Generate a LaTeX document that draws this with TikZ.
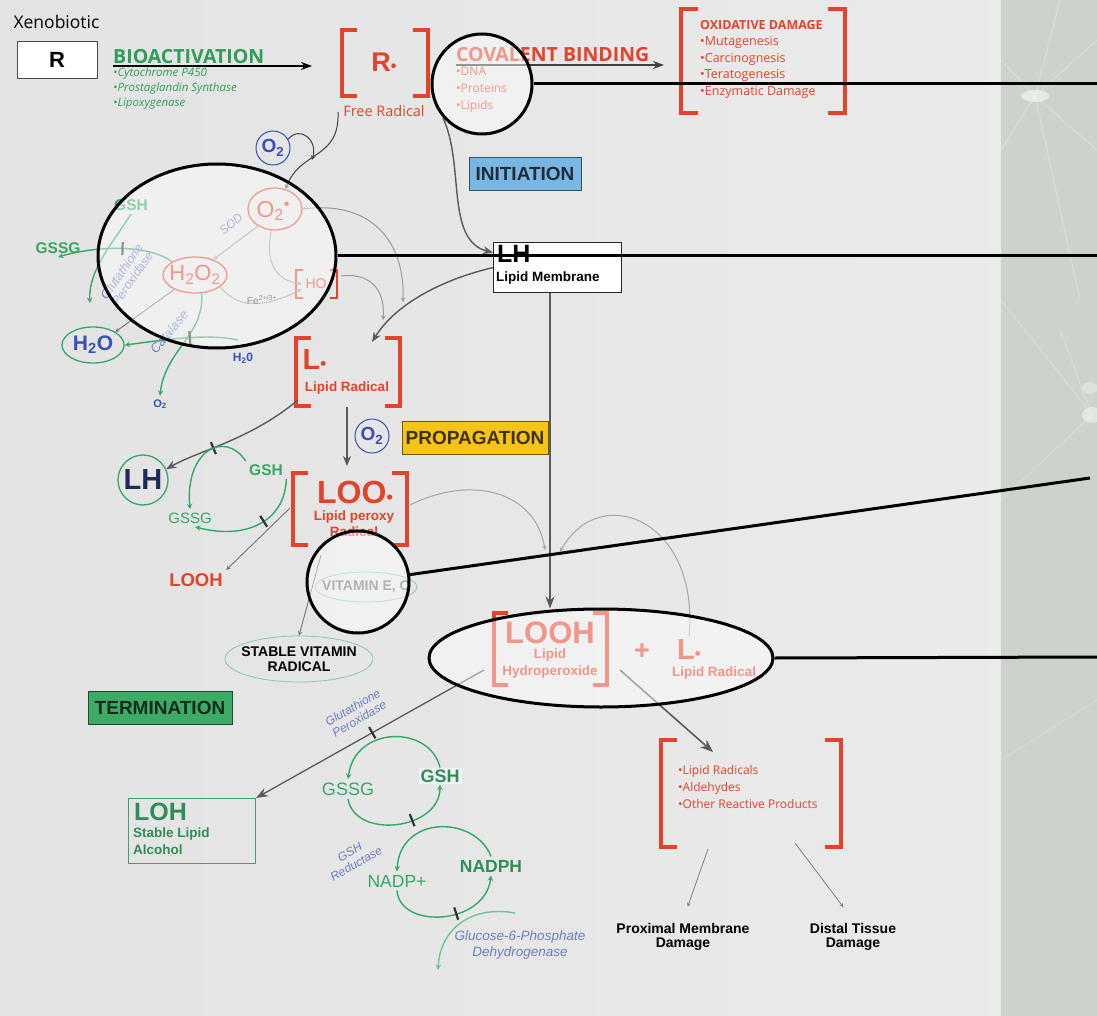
\documentclass[tikz,border=0pt]{standalone}
\usepackage{fontspec}
\setmainfont{Liberation Sans}
\newfontfamily\myriad{Open Sans}
\usepackage{tikz}
\usetikzlibrary{shapes.geometric,arrows.meta}
\usepackage{xcolor}

\definecolor{radred}{HTML}{E2432A}
\definecolor{bioGreen}{HTML}{2E9E5A}
\definecolor{cycGreen}{HTML}{35A866}
\definecolor{oxBlue}{HTML}{3A4FB8}
\definecolor{enzBlue}{HTML}{6C7FC0}
\definecolor{arrGray}{HTML}{5A5A5A}
\definecolor{lightArr}{HTML}{9A9A9A}
\definecolor{initBlue}{HTML}{78B6E4}
\definecolor{propYellow}{HTML}{F5C414}
\definecolor{termGreen}{HTML}{3DAA68}
\definecolor{panelGreen}{HTML}{CCD3CA}
\definecolor{lhNavy}{HTML}{1E2A5A}

\newcommand{\fsz}[2]{\fontsize{#1}{#2}\selectfont}
% square brackets round a species
\newcommand{\sqbr}[6][brk]{%
  \draw[#1] (#2+#6,#4) -- (#2,#4) -- (#2,#5) -- (#2+#6,#5);
  \draw[#1] (#3-#6,#4) -- (#3,#4) -- (#3,#5) -- (#3-#6,#5);}

\begin{document}
\begin{tikzpicture}[x=1pt,y=-1pt,
    brk/.style={draw=radred,line width=4.5pt},
    garr/.style={-{Stealth[length=10pt,width=8pt]},draw=arrGray,line width=1.4pt},
    larr/.style={-stealth,draw=lightArr,line width=1pt},
    cyc/.style={-stealth,draw=cycGreen,line width=1.4pt},
    bar/.style={sloped,fill=black!80,inner sep=0pt,minimum width=2.2pt,minimum height=13pt},
    o2circ/.style={circle,draw=oxBlue,line width=1pt,minimum size=34pt,inner sep=0pt,text=oxBlue,font=\bfseries\fsz{19}{19}},
    oval/.style={ellipse,draw=#1,line width=1.2pt,inner sep=0pt},
    phase/.style={draw=#1!45!black,fill=#1,line width=0.8pt,inner sep=2pt,minimum height=33pt,text=#1!25!black,font=\bfseries\fsz{19}{19}},
    callout/.style={draw=black,line width=3pt,fill=white,fill opacity=0.45},
    callline/.style={draw=black,line width=3pt}]
\useasboundingbox (0,0) rectangle (1097,1016);

% background and side panel
\shade[left color=black!11,middle color=black!3,right color=black!8] (0,0) rectangle (1001,1016);
\fill[panelGreen] (1001,0) rectangle (1097,1016);
\coordinate (glowA) at (1035,96);
\coordinate (glowB) at (1092,415);
\foreach \ex/\ey in {1060/0,1097/40,1097/150,1080/300,1001/60,1001/150}
  \draw[white,opacity=0.2,line width=1.5pt] (glowA) -- (\ex,\ey);
\foreach \ex/\ey in {1001/300,1060/330,1001/500}
  \draw[white,opacity=0.18,line width=1.5pt] (glowB) -- (\ex,\ey);
\draw[white,opacity=0.15,line width=1.5pt] (1001,760) -- (1097,700);
\fill[white,opacity=0.5] (glowA) ellipse (14 and 6);
\fill[white,opacity=0.45] (glowB) ellipse (10 and 8);
\fill[white,opacity=0.35] (1090,388) ellipse (8 and 6);

% bioactivation
\node[anchor=west,font=\myriad\fsz{17.5}{17.5}] (xeno) at (10,22) {Xenobiotic};
\node[draw=black!70,line width=1pt,fill=white,minimum width=80pt,minimum height=37pt,font=\bfseries\fsz{22}{22}] (rbox) at (57,60) {R};
\coordinate (bioS) at (113,66);
\coordinate (bioE) at (312,66);
\draw[-{Stealth[length=11pt,width=8pt]},line width=1.4pt] (bioS) -- (bioE);
\node[anchor=south west,inner sep=0pt,text=bioGreen,font=\myriad\bfseries\fsz{19.5}{19.5}] (bioT) at (113,64) {BIOACTIVATION};
\node[anchor=north west,inner sep=0pt,align=left,text=bioGreen,font=\myriad\itshape\fsz{11.5}{15}] (bioL) at (113,68) {\textbullet Cytochrome P450\\\textbullet Prostaglandin Synthase\\\textbullet Lipoxygenase};

\node[text=radred,font=\bfseries\fsz{27}{27}] (rrad) at (384,62) {R{\fsz{16}{16}\textbullet}};
\sqbr{342}{428}{30}{96}{15}
\node[text=radred,font=\myriad\fsz{14.5}{14.5}] (frad) at (384,111) {Free Radical};

% covalent binding
\node[anchor=south west,inner sep=0pt,text=radred,font=\myriad\bfseries\fsz{19.5}{19.5}] (covT) at (456,62) {COVALENT BINDING};
\coordinate (covS) at (456,65);
\coordinate (covE) at (664,65);
\draw[-{Stealth[length=11pt,width=8pt]},line width=1.4pt,draw=black!75] (covS) -- (covE);
\node[anchor=north west,inner sep=0pt,align=left,text=radred,font=\myriad\fsz{12}{17}] (covL) at (456,67) {\textbullet DNA\\\textbullet Proteins\\\textbullet Lipids};

\sqbr{681}{845}{9}{113}{17}
\node[anchor=north west,inner sep=0pt,align=left,text=radred,font=\myriad\fsz{12.5}{16.5}] (oxL) at (700,20) {\textbf{OXIDATIVE DAMAGE}\\\textbullet Mutagenesis\\\textbullet Carcinognesis\\\textbullet Teratogenesis\\\textbullet Enzymatic Damage};

% superoxide and peroxide
\node[o2circ] (o2a) at (273,148) {O\textsubscript{2}};
\node[oval=radred,minimum width=54pt,minimum height=42pt] (sup) at (275,209) {};
\node[text=radred,font=\fsz{23}{23}] (supT) at (273,211) {O\textsubscript{2}\raisebox{8pt}{\fsz{16}{16}\textbullet}};
\node[oval=radred,minimum width=64pt,minimum height=36pt] (hoo) at (195,275) {};
\node[text=radred,font=\fsz{22}{22}] (hooT) at (hoo) {H\textsubscript{2}O\textsubscript{2}};
\node[text=radred,font=\fsz{14}{14}] (ho) at (316,284) {HO};
\sqbr[brk,line width=2.5pt]{296}{337}{270}{298}{7}

\coordinate (rBot) at (338,112);
\coordinate (o2j) at (312,160);
\draw[-stealth,draw=black!75,line width=1pt] (rBot) .. controls (340,160) and (300,150) .. (sup.62);
\draw[-stealth,draw=black!75,line width=1pt] (o2a.30) .. controls (300,125) and (318,140) .. (o2j);

\draw[larr] (sup.225) -- (hoo.40);
\node[rotate=40,text=enzBlue,font=\itshape\fsz{12}{12}] (sod) at (231,224) {SOD};
\draw[larr] (hoo.335) .. controls (240,312) and (270,305) .. (ho.200);
\node[font=\fsz{10}{10},text=black!75] (fe) at (262,300) {Fe\textsuperscript{2+/3+}};
\draw[larr] (sup.260) .. controls (265,262) and (275,280) .. (ho.west);
\coordinate (lTop1) at (403,302);
\coordinate (hoR) at (341,276);
\coordinate (lTop2) at (383,320);
\draw[larr] (sup.east) .. controls (370,200) and (405,240) .. (lTop1);
\draw[larr] (hoR) .. controls (375,272) and (385,295) .. (lTop2);

% glutathione / catalase corner
\node[text=cycGreen,font=\bfseries\fsz{15.5}{15.5}] (gsh3) at (131,205) {GSH};
\node[text=cycGreen,font=\bfseries\fsz{15.5}{15.5}] (gssg3) at (58,248) {GSSG};
\coordinate (gsB) at (90,303);
\draw[cyc] (hoo.150) .. controls (150,245) and (100,245) .. (gssg3.south) node[bar,pos=0.5]{};
\draw[cyc] (gsh3.south) .. controls (115,240) and (88,270) .. (gsB);
\node[rotate=55,align=center,text=enzBlue,font=\itshape\fsz{12.5}{13}] (gpx1) at (127,275) {Glutathione\\Peroxidase};
\node[oval=cycGreen,line width=1.3pt,minimum width=62pt,minimum height=36pt] (hoh) at (93,345) {};
\node[text=oxBlue,font=\bfseries\fsz{21}{21}] (hohT) at (hoh) {H\textsubscript{2}O};
\draw[-stealth,draw=black!60,line width=0.8pt] (hoo.215) -- (hoh.north east);
\node[text=oxBlue,font=\bfseries\fsz{11}{11}] (o2c) at (160,404) {O\textsubscript{2}};
\node[text=oxBlue,font=\bfseries\fsz{12}{12}] (hoh2) at (243,358) {H\textsubscript{2}0};
\coordinate (catS) at (238,340);
\draw[cyc] (hoo.290) .. controls (205,335) and (165,350) .. (o2c.north);
\draw[cyc] (catS) .. controls (205,333) and (165,340) .. (hoh.east) node[bar,pos=0.45]{};
\node[rotate=50,text=enzBlue,font=\itshape\fsz{13}{13}] (cat) at (169,332) {Catalase};

% initiation
\node[draw=black!85,line width=1.2pt,fill=white,minimum width=128pt,minimum height=50pt,anchor=north west] (lh) at (493,242) {};
\node[anchor=north west,inner sep=0pt,font=\bfseries\fsz{25}{25}] (lhT) at (497,245) {LH};
\node[anchor=north west,inner sep=0pt,font=\bfseries\fsz{13.5}{13.5}] (lhL) at (496,272) {Lipid Membrane};
\node[phase=initBlue,minimum width=112pt] (init) at (525,174) {INITIATION};
\coordinate (rRt) at (443,118);
\coordinate (lTop3) at (372,342);
\draw[garr] (rRt) .. controls (465,165) and (445,240) .. (lh.167);
\draw[garr] (lh.west) .. controls (440,280) and (395,305) .. (lTop3);

% lipid radical
\sqbr{296}{400}{338}{406}{15}
\node[anchor=west,text=radred,font=\bfseries\fsz{29}{29}] (lrad) at (299,360) {L{\fsz{17}{17}\textbullet}};
\node[text=radred,font=\bfseries\fsz{13.5}{13.5}] (lradL) at (347,388) {Lipid Radical};

% propagation
\coordinate (lBot) at (347,407);
\coordinate (looTop) at (347,466);
\draw[garr] (lBot) -- (looTop);
\node[o2circ] (o2b) at (372,436) {O\textsubscript{2}};
\node[phase=propYellow,minimum width=146pt] (prop) at (475,438) {PROPAGATION};

\sqbr{293}{407}{473}{545}{15}
\node[text=radred,font=\bfseries\fsz{32}{32}] (loo) at (355,492) {LOO{\fsz{18}{18}\textbullet}};
\node[align=center,text=radred,font=\bfseries\fsz{13.5}{16}] (looL) at (354,524) {Lipid peroxy\\Radical};

\node[circle,draw=cycGreen,line width=1.3pt,minimum size=50pt,inner sep=0pt,text=lhNavy,font=\bfseries\fsz{29}{29}] (lhc) at (143,480) {LH};
\coordinate (lLeft) at (298,400);
\draw[garr] (lLeft) .. controls (250,440) and (200,450) .. (lhc.25) node[bar,pos=0.6]{};
\node[text=cycGreen,font=\bfseries\fsz{15.5}{15.5}] (gsh1) at (266,470) {GSH};
\node[text=cycGreen,font=\fsz{15}{15}] (gssg1) at (190,518) {GSSG};
\draw[cyc] (gsh1.north west) .. controls (225,430) and (185,450) .. (gssg1.north);
\draw[cyc] (gsh1.south east) .. controls (285,522) and (245,540) .. (gssg1.-60) node[bar,pos=0.45]{};

\node[text=radred,font=\bfseries\fsz{18.5}{18.5}] (looh1) at (196,580) {LOOH};
\coordinate (looS) at (290,508);
\draw[-stealth,draw=black!55,line width=0.9pt] (looS) -- (looh1.north east);

\node[oval=cycGreen!60,line width=0.8pt,minimum width=102pt,minimum height=30pt] (vit) at (366,587) {};
\node[text=black!55,font=\bfseries\fsz{14}{14}] (vitT) at (vit) {VITAMIN E, C};
\node[oval=cycGreen!60,line width=0.8pt,minimum width=148pt,minimum height=46pt] (svr) at (299,659) {};
\node[align=center,font=\bfseries\fsz{14}{15}] (svrT) at (svr) {STABLE VITAMIN\\RADICAL};
\coordinate (looBot) at (321,555);
\draw[-stealth,draw=black!55,line width=0.9pt] (looBot) -- (svr.north);

% termination
\node[phase=termGreen,minimum width=144pt] (term) at (160,708) {TERMINATION};

\sqbr{494}{607}{613}{685}{14}
\node[text=radred,font=\bfseries\fsz{31}{31}] (looh) at (550,633) {LOOH};
\node[align=center,text=radred,font=\bfseries\fsz{13.5}{17}] (loohL) at (550,664) {Lipid\\Hydroperoxide};
\node[text=radred,font=\bfseries\fsz{27}{27}] (plus) at (642,652) {+};
\node[text=radred,font=\bfseries\fsz{29}{29}] (lrad2) at (689,650) {L{\fsz{17}{17}\textbullet}};
\node[text=radred,font=\bfseries\fsz{13.5}{13.5}] (lrad2L) at (714,673) {Lipid Radical};

\draw[-{Stealth[length=12pt,width=9pt]},draw=arrGray,line width=1.6pt,shorten >=10pt] (lh.south -| looh.north) -- (looh.north);
\coordinate (looR) at (410,505);
\coordinate (jnL) at (545,550);
\coordinate (jnR) at (560,552);
\draw[larr,draw=black!35] (looR) .. controls (470,475) and (535,490) .. (jnL);
\draw[larr,draw=black!35] (lrad2.north) .. controls (700,520) and (600,480) .. (jnR);

\node[draw=cycGreen,line width=1pt,minimum width=127pt,minimum height=65pt,anchor=north west] (loh) at (128,798) {};
\node[anchor=north west,inner sep=0pt,text=cycGreen!85!black,font=\bfseries\fsz{25}{25}] (lohT) at (134,803) {LOH};
\node[anchor=north west,inner sep=0pt,align=left,text=cycGreen!85!black,font=\bfseries\fsz{13.5}{17}] (lohL) at (133,828) {Stable Lipid\\Alcohol};
\coordinate (loohLB) at (484,670);
\draw[-{Stealth[length=12pt,width=9pt]},draw=arrGray,line width=1.3pt] (loohLB) -- (loh.north east) node[bar,pos=0.49]{};
\node[rotate=30,align=center,text=enzBlue,font=\itshape\fsz{12}{13}] (gpx2) at (356,713) {Glutathione\\Peroxidase};

% glutathione and NADPH cycles
\node[text=cycGreen,font=\fsz{18}{18}] (gssg2) at (348,789) {GSSG};
\node[fill=white,fill opacity=0.5,text opacity=1,inner sep=2pt,text=cycGreen!85!black,font=\bfseries\fsz{18}{18}] (gsh2) at (440,776) {GSH};
\draw[cyc] (gsh2.north) .. controls (430,725) and (355,725) .. (gssg2.north);
\draw[cyc] (gssg2.south) .. controls (355,840) and (440,830) .. (gsh2.south) node[bar,pos=0.62]{};
\node[rotate=30,align=center,text=enzBlue,font=\itshape\fsz{12}{13}] (gr) at (353,858) {GSH\\Reductase};

\node[text=cycGreen,font=\fsz{17.5}{17.5}] (nadp) at (397,881) {NADP+};
\node[text=cycGreen!85!black,font=\bfseries\fsz{17.5}{17.5}] (nadph) at (491,866) {NADPH};
\draw[cyc] (nadph.north) .. controls (475,815) and (400,815) .. (nadp.north);
\draw[cyc] (nadp.south) .. controls (400,930) and (485,925) .. (nadph.south) node[bar,pos=0.6]{};
\coordinate (glS) at (515,913);
\coordinate (glE) at (438,970);
\draw[cyc,draw=cycGreen!70] (glS) .. controls (470,905) and (440,930) .. (glE);
\node[align=center,text=enzBlue,font=\itshape\fsz{13.5}{15}] (g6p) at (520,945) {Glucose-6-Phosphate\\Dehydrogenase};

% reactive products
\coordinate (loohRB) at (620,670);
\coordinate (dmgT) at (713,752);
\draw[-{Stealth[length=13pt,width=10pt]},draw=arrGray,line width=1.6pt] (loohRB) -- (dmgT);
\sqbr{661}{841}{740}{847}{16}
\node[anchor=north west,inner sep=0pt,align=left,text=radred,font=\myriad\fsz{12}{17}] (dmgL) at (678,765) {\textbullet Lipid Radicals\\\textbullet Aldehydes\\\textbullet Other Reactive Products};
\node[align=center,font=\bfseries\fsz{14}{14}] (prox) at (683,937) {Proximal Membrane\\Damage};
\node[align=center,font=\bfseries\fsz{14}{14}] (dist) at (853,937) {Distal Tissue\\Damage};
\coordinate (dmgB1) at (708,849);
\coordinate (dmgB2) at (795,843);
\draw[-stealth,draw=black!50,line width=0.8pt,shorten >=14pt] (dmgB1) -- (prox.north);
\draw[-stealth,draw=black!50,line width=0.8pt,shorten >=16pt] (dmgB2) -- (dist.north);

% callouts
\node[callout,circle,minimum size=100pt] (c1) at (482,84) {};
\node[callout,ellipse,minimum width=238pt,minimum height=184pt] (c2) at (217,256) {};
\node[callout,circle,minimum size=102pt] (c3) at (358,582) {};
\node[callout,ellipse,minimum width=344pt,minimum height=98pt] (c4) at (601,658) {};
\coordinate (e1) at (1097,84);
\coordinate (e2) at (1097,256);
\coordinate (e3) at (1090,478);
\coordinate (e4) at (1097,657);
\draw[callline] (c1.east) -- (e1);
\draw[callline] (c2.east) -- (e2);
\draw[callline] (c3) -- (e3);
\draw[callline] (c4.east) -- (e4);
\end{tikzpicture}
\end{document}
